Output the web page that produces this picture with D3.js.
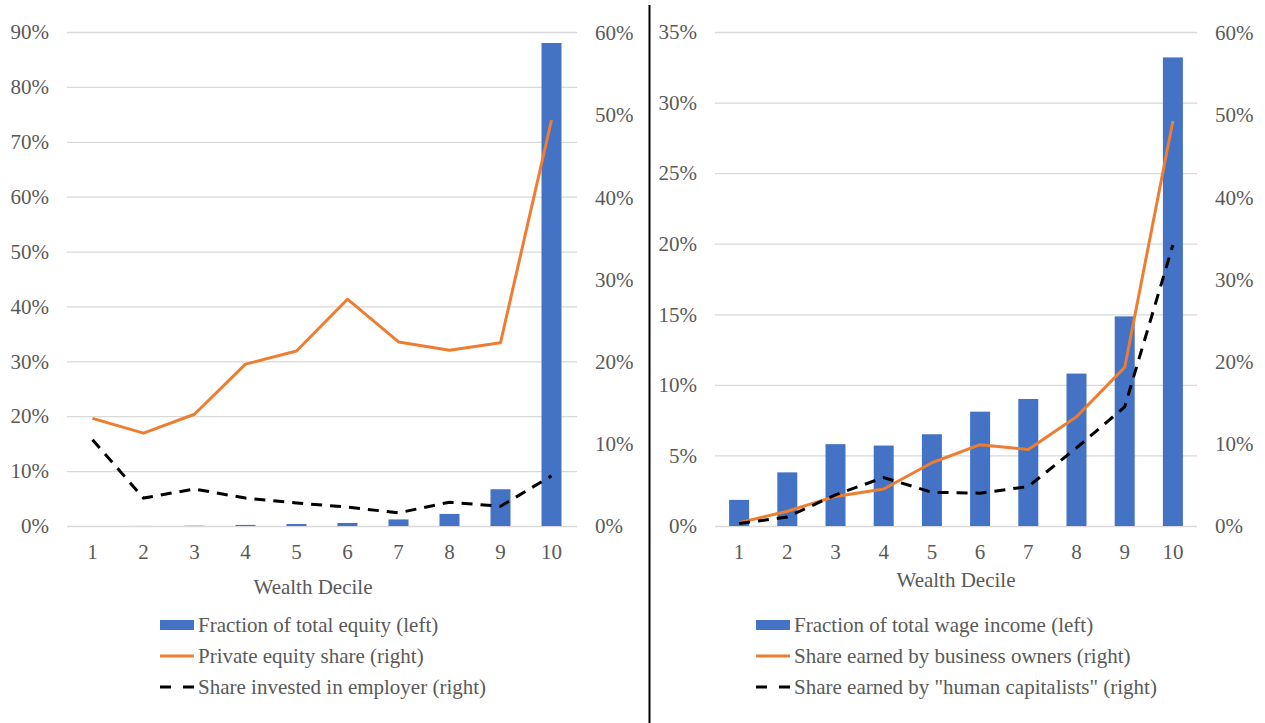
<!DOCTYPE html>
<html>
<head>
<meta charset="utf-8">
<script src="https://cdn.jsdelivr.net/npm/d3@7"></script>
</head>
<body style="margin:0;padding:0;background:#fff">
<svg id="chart" width="1265" height="723" style="display:block"></svg>
<script>
// Wealth deciles shared by both panels
const deciles = ["1", "2", "3", "4", "5", "6", "7", "8", "9", "10"];

// Panel A: equity holdings by wealth decile
const equityFraction = [0.0, 0.0001, 0.0005, 0.002, 0.0036, 0.0055, 0.012, 0.022, 0.067, 0.880];
const privateEquityShare = [0.131, 0.113, 0.136, 0.197, 0.213, 0.276, 0.224, 0.214, 0.223, 0.494];
const employerShare = [0.105, 0.034, 0.045, 0.034, 0.028, 0.023, 0.016, 0.029, 0.024, 0.061];
const leftTicksA = [0, 0.1, 0.2, 0.3, 0.4, 0.5, 0.6, 0.7, 0.8, 0.9];
const rightTicksA = [0, 0.1, 0.2, 0.3, 0.4, 0.5, 0.6];
const legendA = ["Fraction of total equity (left)", "Private equity share (right)", "Share invested in employer (right)"];

// Panel B: wage income by wealth decile
const wageFraction = [0.0185, 0.038, 0.058, 0.057, 0.065, 0.081, 0.090, 0.108, 0.1485, 0.332];
const businessOwnerShare = [0.004, 0.018, 0.036, 0.045, 0.077, 0.099, 0.093, 0.133, 0.193, 0.493];
const humanCapitalistShare = [0.003, 0.011, 0.038, 0.059, 0.041, 0.040, 0.048, 0.095, 0.145, 0.342];
const leftTicksB = [0, 0.05, 0.10, 0.15, 0.20, 0.25, 0.30, 0.35];
const rightTicksB = [0, 0.1, 0.2, 0.3, 0.4, 0.5, 0.6];
const legendB = ["Fraction of total wage income (left)", "Share earned by business owners (right)", "Share earned by \"human capitalists\" (right)"];

const BLUE = "#4472C4", ORANGE = "#ED7D31", GRID = "#d9d9d9", INK = "#595959";
const FONT = '"Liberation Serif"';
const FS = "21px";
const pct = d3.format(".0%");
const svg = d3.select("#chart");

function styleText(sel) {
  sel.attr("fill", INK).attr("font-family", null).attr("font-size", null)
    .style("font-family", FONT).style("font-size", FS);
}

function panel(cfg) {
  const g = svg.append("g");
  const x = d3.scaleBand().domain(deciles).range([cfg.x0, cfg.x1]).padding(0);
  const yL = d3.scaleLinear().domain([0, cfg.leftMax]).range([526, 32]);
  const yR = d3.scaleLinear().domain([0, 0.6]).range([526, 33]);

  // gridlines on the left-axis ticks
  g.append("g")
    .attr("transform", `translate(${cfg.x0},0)`)
    .call(d3.axisLeft(yL).tickValues(cfg.leftTicks).tickSize(-(cfg.x1 - cfg.x0)).tickFormat(""))
    .call(a => a.select(".domain").remove())
    .call(a => a.selectAll("line").attr("stroke", GRID).attr("stroke-width", 1.3));

  // left axis labels
  g.append("g")
    .attr("transform", `translate(${cfg.leftLabelX},0)`)
    .call(d3.axisLeft(yL).tickValues(cfg.leftTicks).tickSize(0).tickPadding(0).tickFormat(pct))
    .call(a => a.select(".domain").remove())
    .call(a => a.attr("font-family", null).attr("font-size", null))
    .call(a => styleText(a.selectAll("text")));

  // right axis labels
  g.append("g")
    .attr("transform", `translate(${cfg.rightLabelX},0)`)
    .call(d3.axisRight(yR).tickValues(cfg.rightTicks).tickSize(0).tickPadding(0).tickFormat(pct))
    .call(a => a.select(".domain").remove())
    .call(a => a.attr("font-family", null).attr("font-size", null))
    .call(a => styleText(a.selectAll("text")));

  // category labels
  g.append("g")
    .attr("transform", "translate(0,541)")
    .call(d3.axisBottom(x).tickSize(0).tickPadding(0))
    .call(a => a.select(".domain").remove())
    .call(a => a.attr("font-family", null).attr("font-size", null))
    .call(a => styleText(a.selectAll("text").attr("dy", "0.85em")));

  g.append("text")
    .attr("x", cfg.titleX).attr("y", cfg.titleY)
    .attr("text-anchor", "middle")
    .text("Wealth Decile")
    .call(styleText);

  // bars
  const bw = 20;
  g.append("g").selectAll("rect").data(cfg.bars).join("rect")
    .attr("x", (d, i) => x(deciles[i]) + x.bandwidth() / 2 - bw / 2)
    .attr("width", bw)
    .attr("y", d => yL(d))
    .attr("height", d => yL(0) - yL(d))
    .attr("fill", BLUE);

  const line = d3.line()
    .x((d, i) => x(deciles[i]) + x.bandwidth() / 2)
    .y(d => yR(d));

  g.append("path").datum(cfg.solid)
    .attr("d", line).attr("fill", "none")
    .attr("stroke", ORANGE).attr("stroke-width", 3).attr("stroke-linejoin", "round");

  g.append("path").datum(cfg.dashed)
    .attr("d", line).attr("fill", "none")
    .attr("stroke", "#000").attr("stroke-width", 3)
    .attr("stroke-dasharray", "11,8");

  // legend
  const lg = g.append("g").attr("transform", `translate(${cfg.legendX},0)`);
  const rows = [625, 656, 687];
  lg.append("rect").attr("x", 0).attr("y", rows[0] - 5).attr("width", 34).attr("height", 10).attr("fill", BLUE);
  lg.append("line").attr("x1", 0).attr("x2", 34).attr("y1", rows[1]).attr("y2", rows[1])
    .attr("stroke", ORANGE).attr("stroke-width", 3);
  lg.append("line").attr("x1", 0).attr("x2", 34).attr("y1", rows[2]).attr("y2", rows[2])
    .attr("stroke", "#000").attr("stroke-width", 3).attr("stroke-dasharray", "11,12");
  lg.selectAll("text.lab").data(cfg.legend).join("text")
    .attr("class", "lab")
    .attr("x", 38).attr("y", (d, i) => rows[i])
    .attr("dy", "0.33em")
    .text(d => d)
    .call(styleText);
}

panel({
  x0: 67, x1: 577, leftMax: 0.9, leftTicks: leftTicksA, rightTicks: rightTicksA,
  leftLabelX: 49, rightLabelX: 595, titleX: 313, titleY: 594,
  bars: equityFraction, solid: privateEquityShare, dashed: employerShare,
  legend: legendA, legendX: 160
});

panel({
  x0: 715, x1: 1197, leftMax: 0.35, leftTicks: leftTicksB, rightTicks: rightTicksB,
  leftLabelX: 697, rightLabelX: 1215, titleX: 956, titleY: 587,
  bars: wageFraction, solid: businessOwnerShare, dashed: humanCapitalistShare,
  legend: legendB, legendX: 756
});

// divider between the two panels
svg.append("line")
  .attr("x1", 649.5).attr("x2", 649.5).attr("y1", 5).attr("y2", 723)
  .attr("stroke", "#000").attr("stroke-width", 2);
</script>
</body>
</html>
